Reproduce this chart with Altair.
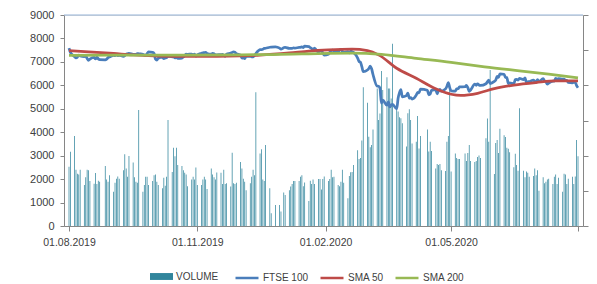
import altair as alt
import pandas as pd

# ---------------- data ----------------
holidays = ["2019-08-26", "2019-12-25", "2019-12-26", "2020-01-01",
            "2020-04-10", "2020-04-13", "2020-05-08", "2020-05-25"]

# FTSE 100 daily close, by month
ftse_aug19 = [7585, 7407, 7224, 7172, 7199, 7286, 7254, 7227, 7251, 7148, 7067, 7117, 7190, 7125, 7204, 7128, 7095, 7090, 7115, 7184, 7207]
ftse_sep19 = [7282, 7268, 7311, 7271, 7282, 7236, 7268, 7338, 7345, 7367, 7321, 7320, 7314, 7356, 7345, 7326, 7291, 7290, 7351, 7426, 7408]
ftse_oct19 = [7360, 7123, 7078, 7155, 7198, 7143, 7167, 7186, 7247, 7213, 7212, 7168, 7182, 7151, 7164, 7212, 7261, 7328, 7324, 7331, 7306, 7331, 7248]
ftse_nov19 = [7302, 7370, 7388, 7397, 7406, 7359, 7329, 7365, 7351, 7293, 7303, 7308, 7324, 7262, 7239, 7327, 7376, 7405, 7430, 7416, 7347]
ftse_dec19 = [7286, 7159, 7189, 7138, 7240, 7234, 7214, 7216, 7273, 7353, 7519, 7525, 7541, 7574, 7582, 7624, 7632, 7645, 7587, 7542]
ftse_jan20 = [7604, 7622, 7575, 7574, 7575, 7598, 7588, 7618, 7622, 7643, 7610, 7675, 7651, 7611, 7572, 7508, 7586, 7412, 7481, 7484, 7382, 7286]
ftse_feb20 = [7326, 7412, 7482, 7505, 7467, 7447, 7499, 7534, 7452, 7409, 7433, 7382, 7457, 7437, 7404, 7157, 7018, 6987, 6796, 6581]
ftse_mar20 = [6655, 6718, 6816, 6705, 6463, 5966, 5960, 5877, 5237, 5366, 5151, 5295, 5081, 5152, 5191, 4994, 5446, 5688, 5816, 5510, 5564, 5672]
ftse_apr20 = [5455, 5480, 5416, 5582, 5704, 5678, 5843, 5791, 5598, 5628, 5787, 5813, 5641, 5771, 5827, 5752, 5847, 5959, 6115, 5901]
ftse_may20 = [5763, 5754, 5849, 5854, 5936, 5940, 5995, 5904, 5742, 5800, 6049, 6002, 6067, 6015, 5993, 6068, 6144, 6219, 6077]
ftse_jun20 = [6166, 6220, 6382, 6341, 6484, 6473, 6336, 6329, 6077, 6105, 6065, 6243, 6253, 6224, 6293, 6245, 6320, 6124, 6147, 6159, 6226, 6170]
ftse_jul20 = [6158, 6240, 6157, 6286, 6190, 6156, 6050, 6095, 6176, 6180, 6293, 6251, 6290, 6262, 6270, 6207, 6211, 6124, 6105, 6129, 6131, 5990, 5898]

# Daily volume, by month
vol_aug19 = [2530, 3170, 3840, 2400, 2230, 2200, 2400, 1750, 2080, 2400, 2380, 1920, 1800, 2260, 1790, 1930, 1890, 2560, 1980, 1890, 2160]
vol_sep19 = [1460, 1850, 2020, 2110, 2020, 2380, 3060, 2450, 2100, 2990, 2710, 2080, 1890, 1850, 4950, 1460, 1750, 2100, 2100, 1750, 1920]
vol_oct19 = [2160, 2200, 1890, 1750, 1610, 2060, 1720, 2100, 4520, 2300, 3340, 2970, 3340, 2600, 2560, 2380, 2270, 2200, 1700, 1980, 2100, 1980, 2500]
vol_nov19 = [1750, 1750, 1980, 2100, 1980, 1580, 2450, 2200, 2080, 1980, 2280, 2270, 1790, 2400, 1790, 1820, 1680, 3120, 1820, 1790, 1850]
vol_dec19 = [2730, 2450, 2020, 1890, 1530, 1820, 2100, 2400, 2160, 5700, 3090, 3270, 1980, 1920, 3450, 1610, 540, 900, 900, 620]
vol_jan20 = [1430, 1320, 1530, 1680, 1790, 1920, 1920, 1920, 2100, 2160, 1700, 1860, 1070, 1930, 1790, 1980, 1790, 2000, 2000, 1560, 2000, 2110]
vol_feb20 = [1920, 2000, 2400, 2080, 2100, 1750, 1700, 1890, 2400, 1850, 1180, 2130, 2290, 2300, 2600, 3230, 2860, 2900, 3650, 5920]
vol_mar20 = [5260, 3810, 3360, 3450, 4120, 5870, 4520, 4800, 6610, 5800, 6340, 5870, 5870, 5440, 7770, 4950, 4880, 4640, 4600, 4380, 3390, 4810]
vol_apr20 = [4980, 4520, 3520, 3590, 4690, 3310, 3840, 4120, 3180, 3590, 3200, 2450, 2640, 2600, 2640, 2380, 2350, 3590, 3840, 5900]
vol_may20 = [2320, 3090, 2900, 2860, 2860, 3090, 2770, 3110, 3450, 2770, 2730, 2770, 2940, 3010, 2900, 3740, 4590, 3590, 6650]
vol_jun20 = [2220, 3540, 3670, 3110, 4150, 3870, 3800, 3340, 3290, 3150, 2510, 3080, 2600, 2360, 5020, 2360, 2080, 2320, 2270, 2100, 2130, 2450]
vol_jul20 = [2160, 2380, 1500, 2080, 1820, 1890, 1980, 2020, 1790, 2100, 2200, 1790, 2060, 1460, 2230, 2200, 1790, 2020, 2100, 1790, 2110, 3670, 2970]

# Moving averages (read at intervals from the picture)
sma50_dates = ["2019-08-01", "2019-08-15", "2019-09-02", "2019-09-16", "2019-10-01", "2019-10-15",
               "2019-11-01", "2019-11-15", "2019-12-02", "2019-12-16", "2020-01-06", "2020-01-20",
               "2020-02-03", "2020-02-20", "2020-03-02", "2020-03-10", "2020-03-23", "2020-04-06",
               "2020-04-20", "2020-05-01", "2020-05-08", "2020-05-20", "2020-06-01", "2020-06-15",
               "2020-07-01", "2020-07-15", "2020-07-31"]
sma50_vals = [7480, 7430, 7360, 7300, 7260, 7240, 7230, 7240, 7260, 7290, 7380, 7460,
              7510, 7540, 7480, 7300, 6730, 6300, 5850, 5620, 5570, 5660, 5860, 6010,
              6120, 6190, 6190]

sma200_dates = ["2019-08-01", "2019-10-01", "2019-12-02", "2020-01-15", "2020-02-20", "2020-03-12",
                "2020-04-06", "2020-05-01", "2020-05-25", "2020-06-19", "2020-07-10", "2020-07-31"]
sma200_vals = [7280, 7290, 7300, 7340, 7370, 7320, 7150, 6980, 6790, 6620, 6480, 6320]

series_names = ["FTSE 100", "SMA 50", "SMA 200"]
series_colors = ["#4A7EBB", "#BE4B48", "#98B954"]
volume_name = "VOLUME"
volume_color = "#31859C"

y_ticks = [0, 1000, 2000, 3000, 4000, 5000, 6000, 7000, 8000, 9000]
y2_ticks = [0, 1500, 3000, 4500, 6000, 7500, 9000]

# ---------------- tables ----------------
trade_days = pd.bdate_range("2019-08-01", "2020-07-31", freq="C", holidays=holidays).strftime("%Y-%m-%d")
ftse = (ftse_aug19 + ftse_sep19 + ftse_oct19 + ftse_nov19 + ftse_dec19 + ftse_jan20 +
        ftse_feb20 + ftse_mar20 + ftse_apr20 + ftse_may20 + ftse_jun20 + ftse_jul20)
vol = (vol_aug19 + vol_sep19 + vol_oct19 + vol_nov19 + vol_dec19 + vol_jan20 +
       vol_feb20 + vol_mar20 + vol_apr20 + vol_may20 + vol_jun20 + vol_jul20)
assert len(trade_days) == len(ftse) == len(vol)

vol_df = pd.DataFrame({"date": trade_days, "value": vol, "kind": volume_name})
ftse_df = pd.DataFrame({"date": trade_days, "value": ftse, "series": series_names[0]})
sma50_df = pd.DataFrame({"date": sma50_dates, "value": sma50_vals, "series": series_names[1]})
sma200_df = pd.DataFrame({"date": sma200_dates, "value": sma200_vals, "series": series_names[2]})
top_df = pd.DataFrame({"value": [9000]})

# ---------------- scales / axes ----------------
GRAY = "#868686"
TXT = "#404040"
FONT = "Liberation Sans"

xscale = alt.Scale(type="utc", domain=[alt.DateTime(year=2019, month=8, date=1, utc=True),
                                       alt.DateTime(year=2020, month=7, date=31, utc=True)])
xaxis = alt.Axis(
    values=[alt.DateTime(year=2019, month=8, date=1, utc=True),
            alt.DateTime(year=2019, month=11, date=1, utc=True),
            alt.DateTime(year=2020, month=2, date=1, utc=True),
            alt.DateTime(year=2020, month=5, date=1, utc=True),
            alt.DateTime(year=2020, month=7, date=31, utc=True)],
    labelExpr="utcmonth(datum.value) == 6 ? '' : utcFormat(datum.value, '%d.%m.%Y')",
    title=None, grid=False, tickSize=5, tickColor=GRAY, domainColor=GRAY,
    labelFontSize=10.5, labelColor=TXT, labelFont=FONT, labelPadding=6,
    labelFlush=False, labelOverlap=False)
yscale = alt.Scale(domain=[0, 9000], nice=False, zero=True)
yaxis_left = alt.Axis(values=y_ticks, format="d", title=None, grid=False, tickSize=4, tickColor=GRAY,
                      domainColor=GRAY, labelFontSize=11, labelColor=TXT, labelFont=FONT,
                      labelPadding=6)
yaxis_right = alt.Axis(orient="right", values=y2_ticks, title=None, grid=False, labels=False,
                       tickSize=5, tickColor=GRAY, domainColor=GRAY)

X = alt.X("date:T", scale=xscale, axis=xaxis)

color_scale = alt.Scale(domain=series_names, range=series_colors)
line_legend = alt.Legend(orient="none", legendX=170, legendY=250, direction="horizontal",
                         title=None, symbolType="stroke", symbolSize=529, symbolStrokeWidth=2.5,
                         labelFontSize=10, labelColor=TXT, labelFont=FONT, columnPadding=6,
                         labelOffset=3, padding=0)
vol_legend = alt.Legend(orient="none", legendX=86, legendY=250, direction="horizontal",
                        title=None, symbolType="M-1,-0.3L1,-0.3L1,0.3L-1,0.3Z", symbolSize=529,
                        symbolStrokeWidth=0, labelFontSize=10, labelColor=TXT, labelFont=FONT,
                        labelOffset=3, padding=0)

top_line = alt.Chart(top_df).mark_rule(color="#95B3D7", strokeWidth=1).encode(
    y=alt.Y("value:Q", scale=yscale, axis=None))

bars = alt.Chart(vol_df).mark_bar(size=0.75).encode(
    x=X,
    y=alt.Y("value:Q", scale=yscale, axis=yaxis_left),
    fill=alt.Fill("kind:N", scale=alt.Scale(domain=[volume_name], range=[volume_color]),
                  legend=vol_legend))

def line_layer(df, axis):
    return alt.Chart(df).mark_line(strokeWidth=2.75, interpolate="monotone").encode(
        x=X,
        y=alt.Y("value:Q", scale=yscale, axis=axis),
        color=alt.Color("series:N", scale=color_scale, legend=line_legend))

chart = alt.layer(
    top_line, bars,
    line_layer(ftse_df, None),
    line_layer(sma50_df, None),
    line_layer(sma200_df, yaxis_right),
).resolve_axis(y="independent").properties(
    width=519, height=211,
    autosize=alt.AutoSizeParams(type="none"),
    padding={"left": 56, "top": 7, "right": 6, "bottom": 58},
).configure_view(stroke=None).configure(font=FONT)

chart.save("out.html", embed_options={"renderer": "svg", "actions": False})
